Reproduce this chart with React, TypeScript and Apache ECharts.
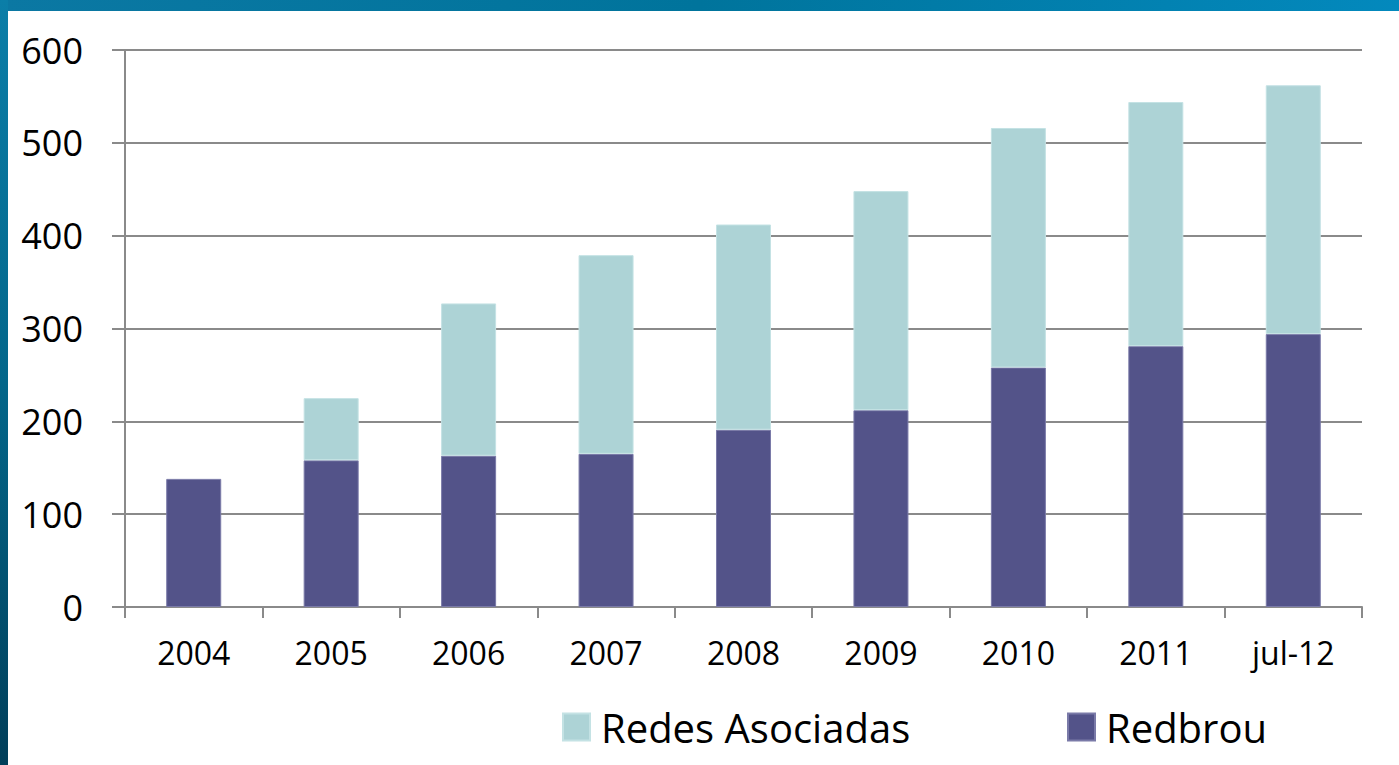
import React, { useEffect, useRef } from "react";
import * as echarts from "echarts";

const categories = ["2004", "2005", "2006", "2007", "2008", "2009", "2010", "2011", "jul-12"];
const redbrou = [138, 158, 163, 165, 191, 212, 258, 281, 294];
const redesAsociadas = [null, 67, 164, 214, 221, 236, 258, 263, 268];
const yTicks = [0, 100, 200, 300, 400, 500, 600];

const FONT = "'Open Sans', Lato, sans-serif";
const GRID_COLOR = "#8a8a8a";

export default function App() {
  const ref = useRef<HTMLDivElement>(null);

  useEffect(() => {
    document.body.style.margin = "0";
    if (!ref.current) return;
    const chart = echarts.init(ref.current, null, { renderer: "svg" });
    chart.setOption({
      animation: false,
      backgroundColor: "#ffffff",
      graphic: [
        {
          type: "rect",
          shape: { x: 0, y: 0, width: 1399, height: 11 },
          style: {
            fill: new echarts.graphic.LinearGradient(0, 0, 1, 0, [
              { offset: 0, color: "#0b78a3" },
              { offset: 0.5, color: "#00749c" },
              { offset: 1, color: "#0389bd" },
            ]),
          },
          z: 100,
        },
        {
          type: "rect",
          shape: { x: 0, y: 0, width: 8, height: 765 },
          style: {
            fill: new echarts.graphic.LinearGradient(0, 0, 0, 1, [
              { offset: 0, color: "#0b7ea8" },
              { offset: 0.5, color: "#03668a" },
              { offset: 1, color: "#013f5a" },
            ]),
          },
          z: 100,
        },
      ],
      legend: [
        {
          data: ["Redes Asociadas"],
          left: 557,
          top: 702,
          itemWidth: 27,
          itemHeight: 27,
          icon: "rect",
          textStyle: { fontFamily: FONT, fontSize: 40, color: "#000", padding: [0, 0, 0, 6] },
        },
        {
          data: ["Redbrou"],
          left: 1062,
          top: 702,
          itemWidth: 27,
          itemHeight: 27,
          icon: "rect",
          textStyle: { fontFamily: FONT, fontSize: 40, color: "#000", padding: [0, 0, 0, 6] },
        },
      ],
      grid: { left: 125, top: 50, right: 37, bottom: 158, containLabel: false },
      xAxis: {
        type: "category",
        data: categories,
        axisLine: { lineStyle: { color: GRID_COLOR, width: 2 } },
        axisTick: { show: true, length: 11, lineStyle: { color: GRID_COLOR, width: 2 } },
        axisLabel: { fontFamily: FONT, fontSize: 32, color: "#000", margin: 29 },
      },
      yAxis: {
        type: "value",
        min: yTicks[0],
        max: yTicks[yTicks.length - 1],
        interval: 100,
        axisLine: { show: true, lineStyle: { color: GRID_COLOR, width: 2 } },
        axisTick: { show: true, length: 13, lineStyle: { color: GRID_COLOR, width: 2 } },
        splitLine: { lineStyle: { color: GRID_COLOR, width: 2 } },
        axisLabel: { fontFamily: FONT, fontSize: 36, color: "#000", margin: 42 },
      },
      series: [
        {
          name: "Redbrou",
          type: "bar",
          stack: "total",
          data: redbrou,
          barWidth: 55,
          itemStyle: { color: "#535389", borderColor: "#7a7aa8", borderWidth: 1 },
        },
        {
          name: "Redes Asociadas",
          type: "bar",
          stack: "total",
          data: redesAsociadas,
          barWidth: 55,
          itemStyle: { color: "#add3d6", borderColor: "#c4e2e4", borderWidth: 1 },
        },
      ],
    });
    return () => chart.dispose();
  }, []);

  return (
    <div
      ref={ref}
      style={{ position: "fixed", left: 0, top: 0, width: 1399, height: 765 }}
    />
  );
}
